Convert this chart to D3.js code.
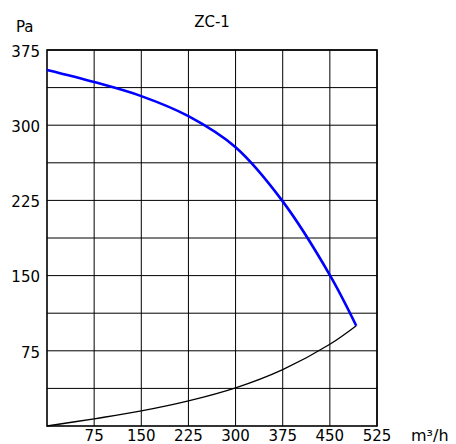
<!DOCTYPE html>
<html>
<head>
<meta charset="utf-8">
<script src="https://d3js.org/d3.v7.min.js"></script>
<style>
    body { margin: 0; padding: 0; background: #fff; }
    svg { display: block; font-family: "DejaVu Sans", Verdana, sans-serif; }
</style>
</head>
<body>
<div id="chart"></div>
<script>
// Chart data (flow m³/h vs pressure Pa)
const title = 'ZC-1';
const xTicks = [75, 150, 225, 300, 375, 450, 525];
const yTicks = [75, 150, 225, 300, 375];
const yGrid = [37.5, 75, 112.5, 150, 187.5, 225, 262.5, 300, 337.5, 375];

// fan curve (blue)
const fanFlow = [0, 75, 150, 225, 300, 375, 450, 492];
const fanPressure = [355, 343, 329, 309, 278, 224, 150.5, 100];

// system curve (black)
const sysFlow = [0, 75, 150, 225, 300, 375, 450, 492];
const sysPressure = [0, 7.2, 15, 25, 38, 56.2, 81.5, 100];

const width = 456, height = 444;
const margin = { left: 47, right: 79, top: 50, bottom: 18 };

const svg = d3.select('#chart').append('svg')
    .attr('width', width)
    .attr('height', height);

const x = d3.scaleLinear().domain([0, 525]).range([margin.left, width - margin.right]);
const y = d3.scaleLinear().domain([0, 375]).range([height - margin.bottom, margin.top]);

// grid
svg.append('g').selectAll('line.v')
    .data(xTicks)
    .enter().append('line')
    .attr('x1', d => x(d)).attr('x2', d => x(d))
    .attr('y1', y(0)).attr('y2', y(375))
    .attr('stroke', '#000').attr('stroke-width', 1);

svg.append('g').selectAll('line.h')
    .data(yGrid)
    .enter().append('line')
    .attr('x1', x(0)).attr('x2', x(525))
    .attr('y1', d => y(d)).attr('y2', d => y(d))
    .attr('stroke', '#000').attr('stroke-width', 1);

// frame
svg.append('rect')
    .attr('x', x(0)).attr('y', y(375))
    .attr('width', x(525) - x(0)).attr('height', y(0) - y(375))
    .attr('fill', 'none').attr('stroke', '#000').attr('stroke-width', 1.6);

// curves
const line = d3.line()
    .x(d => x(d[0]))
    .y(d => y(d[1]))
    .curve(d3.curveCatmullRom.alpha(0.5));

svg.append('path')
    .datum(sysFlow.map((f, i) => [f, sysPressure[i]]))
    .attr('fill', 'none')
    .attr('stroke', '#000')
    .attr('stroke-width', 1.3)
    .attr('d', line);

svg.append('path')
    .datum(fanFlow.map((f, i) => [f, fanPressure[i]]))
    .attr('fill', 'none')
    .attr('stroke', '#0000ff')
    .attr('stroke-width', 2.6)
    .attr('d', line);

// tick labels
svg.append('g').selectAll('text')
    .data(xTicks)
    .enter().append('text')
    .attr('x', d => x(d))
    .attr('y', 441)
    .attr('text-anchor', 'middle')
    .attr('font-size', 15)
    .text(d => d);

svg.append('g').selectAll('text')
    .data(yTicks)
    .enter().append('text')
    .attr('x', 40)
    .attr('y', d => y(d))
    .attr('dy', '0.45em')
    .attr('text-anchor', 'end')
    .attr('font-size', 15)
    .text(d => d);

// axis units and title
svg.append('text')
    .attr('x', 411).attr('y', 441)
    .attr('font-size', 16)
    .text('m³/h');

svg.append('text')
    .attr('x', 16).attr('y', 32)
    .attr('font-size', 15)
    .text('Pa');

svg.append('text')
    .attr('x', (x(0) + x(525)) / 2).attr('y', 27)
    .attr('text-anchor', 'middle')
    .attr('font-size', 15)
    .text(title);
</script>
</body>
</html>
